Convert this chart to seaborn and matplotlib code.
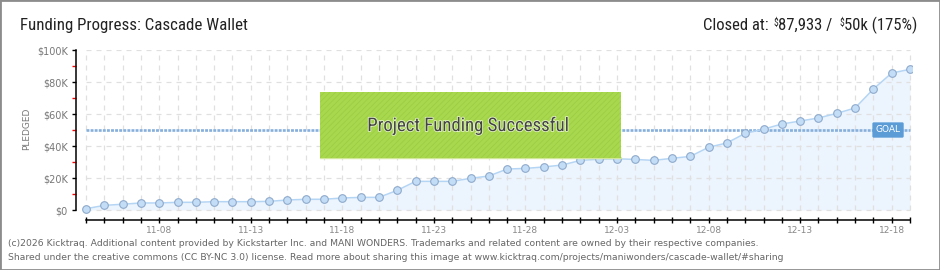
import matplotlib
matplotlib.use("Agg")
import matplotlib.pyplot as plt
import matplotlib.patheffects as pe
from matplotlib.patches import Rectangle
from matplotlib import font_manager
import seaborn as sns
import pandas as pd
import numpy as np

# ---- data -------------------------------------------------------------
days = pd.date_range("2025-11-04", "2025-12-19", freq="D")
pledged_k = [0.8, 2.9, 3.6, 4.4, 4.4, 4.8, 4.8, 5.2, 5.2, 5.2,
             5.4, 6.25, 6.7, 6.7, 7.5, 7.9, 7.9, 12.3, 17.9, 17.9,
             17.9, 19.8, 21.25, 25.6, 26.0, 26.9, 28.1, 31.0, 31.7, 32.0,
             31.6, 31.0, 32.3, 33.5, 39.2, 41.9, 47.9, 50.5, 53.75, 55.6,
             57.5, 60.4, 63.75, 75.6, 85.6, 87.933]
goal_k = 50
label_days = ["11-08", "11-13", "11-18", "11-23", "11-28",
              "12-03", "12-08", "12-13", "12-18"]
y_major_k = [0, 20, 40, 60, 80, 100]
y_major_labels = ["\\$0", "\\$20K", "\\$40K", "\\$60K", "\\$80K", "\\$100K"]
y_minor_k = [10, 30, 50, 70, 90]

title = "Funding Progress: Cascade Wallet"
banner = "Project Funding Successful"
footer_1 = ("(c)2026 Kicktraq. Additional content provided by Kickstarter Inc. and MANI WONDERS. "
            "Trademarks and related content are owned by their respective companies.")
footer_2 = ("Shared under the creative commons (CC BY-NC 3.0) license. Read more about sharing "
            "this image at www.kicktraq.com/projects/maniwonders/cascade-wallet/#sharing")

# ---- style ------------------------------------------------------------
sns.set_style("white")
installed = {f.name for f in font_manager.fontManager.ttflist}


def pick(*names):
    for n in names:
        if n in installed:
            return n
    return "DejaVu Sans"


head_font = pick("Liberation Sans Narrow", "DejaVu Sans Condensed", "Roboto Condensed", "Roboto")
plt.rcParams["font.family"] = ["DejaVu Sans"]
plt.rcParams["hatch.linewidth"] = 0.6

W, H = 940, 270
fig = plt.figure(figsize=(W / 100, H / 100), dpi=100)
fig.patch.set_facecolor("white")

# axes: day 0 at x=86px, day 45 at x=910px; $0 at y=210px, $100K at y=50px
step = (910 - 86) / 45
ax = fig.add_axes([76 / W, (H - 220) / H, (912 - 76) / W, 170 / H])
ax.set_xlim(-10 / step, 45 + 2 / step)
ax.set_ylim(-10 / 1.6, 100)
ax.set_facecolor("none")

df = pd.DataFrame({"day": np.arange(len(days)), "pledged": pledged_k,
                   "label": days.strftime("%m-%d")})

# grid
ax.hlines(y_major_k, 0, 45, colors="#e0e0e0", linestyles=(0, (4, 4)), lw=0.9, zorder=1)
ax.vlines(df["day"], 0, 100, colors="#e0e0e0", linestyles=(0, (4, 4)), lw=0.9, zorder=1)

# area + line
ax.fill_between(df["day"], df["pledged"], 0, color="#ecf4fd", lw=0, zorder=0.5)
sns.lineplot(data=df, x="day", y="pledged", ax=ax, color="#b5d5f4", lw=1.1,
             marker="o", markersize=5.5, markerfacecolor="#c4ddf7",
             markeredgecolor="#8eaacb", markeredgewidth=0.8, zorder=4)

# goal
ax.hlines(goal_k, 0, 45, colors="#86afdc", lw=1.9, linestyles=(0, (1.1, 0.45)), zorder=3)
ax.text(43.8, goal_k, "GOAL", ha="center", va="center", color="white", fontsize=6.5,
        zorder=6, bbox=dict(boxstyle="round,pad=0.35,rounding_size=0.15",
                            fc="#5b9bd6", ec="none"))

# axes decoration
for s in ("top", "right"):
    ax.spines[s].set_visible(False)
ax.spines["left"].set_bounds(0, 100)
ax.spines["bottom"].set_bounds(0, 45)
for s in ("left", "bottom"):
    ax.spines[s].set_color("black")
    ax.spines[s].set_linewidth(1.1)

ax.set_xticks(df["day"], labels=[l if l in label_days else "" for l in df["label"]])
ax.tick_params(axis="x", bottom=True, direction="inout", length=5, width=1, color="black",
               labelcolor="#888888", labelsize=6.5, pad=2)
ax.set_yticks(y_major_k, labels=y_major_labels)
ax.set_yticks(y_minor_k, minor=True)
ax.tick_params(axis="y", which="major", left=True, direction="out", length=3, width=1,
               color="black", labelcolor="#777777", labelsize=7, pad=3)
ax.tick_params(axis="y", which="minor", left=True, direction="out", length=3, width=1,
               color="red")
ax.set_xlabel("")
ax.set_ylabel("")

fig.text(27 / W, 1 - 129 / H, "PLEDGED", rotation=90, ha="center", va="center",
         fontsize=6.5, color="#777777")

# success banner
fig.patches.append(Rectangle((320 / W, (H - 158) / H), 301 / W, 66 / H,
                             transform=fig.transFigure, fc="#a8d84e", ec="#9ccd44",
                             lw=0, hatch="//////", zorder=5))
fig.lines.append(plt.Line2D([320 / W, 621 / W], [(H - 158) / H] * 2,
                            transform=fig.transFigure, color="#d2e79a", lw=1, zorder=5))
fig.text(468 / W, 1 - 126 / H, banner, ha="center", va="center", fontsize=13.5,
         family=head_font, color="#444444", zorder=6,
         path_effects=[pe.withStroke(linewidth=1.2, foreground="#e4f3c8")])

# header
fig.text(20 / W, 1 - 30 / H, title, ha="left", va="baseline", fontsize=12.2,
         family=head_font, color="#222222")

renderer = fig.canvas.get_renderer()
pieces = [  # right to left: text, size, raise_px, gap_to_left_px
    ("50k (175%)", 12, 0, -1),
    ("\\$", 7, 4, 8),
    ("87,933 /", 12, 0, -1),
    ("\\$", 7, 4, 5),
    ("Closed at:", 12, 0, 0),
]
x = 917
for txt, size, rise, gap in pieces:
    t = fig.text(x / W, 1 - (30 - rise) / H, txt, ha="right", va="baseline",
                 fontsize=size, family=head_font, color="#222222")
    x -= t.get_window_extent(renderer).width + gap

# footer
fig.text(8 / W, 1 - 246 / H, footer_1, ha="left", va="baseline", fontsize=6.65, color="#666666")
fig.text(8 / W, 1 - 260 / H, footer_2, ha="left", va="baseline", fontsize=6.65, color="#666666")

# frame
fig.patches.append(Rectangle((0, 0), 1, 1, transform=fig.transFigure, fill=False,
                             ec="#8c8c8c", lw=2, zorder=10))

fig.savefig("out.png", dpi=100)
